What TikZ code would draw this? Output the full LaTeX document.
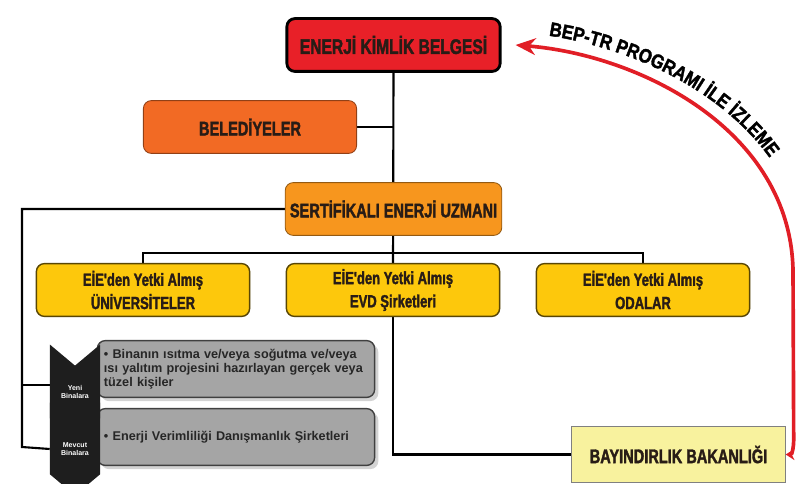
\documentclass[tikz,border=0pt]{standalone}
\usepackage{fontspec}
\setmainfont{Liberation Sans}
\newfontfamily\kutufont[FakeStretch=0.74, BoldFeatures={FakeBold=1.8}]{Liberation Sans}
\newfontfamily\bepfont[FakeStretch=0.86, BoldFeatures={FakeBold=1.8}]{Liberation Sans}
\usetikzlibrary{positioning,shapes.symbols,shadows,backgrounds}
\usetikzlibrary{arrows.meta,decorations.text}
\definecolor{kimlikred}{RGB}{232,32,40}
\definecolor{belorange}{RGB}{242,106,36}
\definecolor{uzmanorange}{RGB}{247,150,30}
\definecolor{yetkiyellow}{RGB}{253,200,12}
\definecolor{bakyellow}{RGB}{248,242,158}
\definecolor{maddegray}{RGB}{165,165,165}
\definecolor{okblack}{RGB}{30,30,30}
\definecolor{bepred}{RGB}{225,30,38}
\definecolor{yazi}{RGB}{40,28,22}
\tikzset{
    kutu/.style={rectangle, rounded corners=0.2cm, minimum width=5.33cm, minimum height=1.32cm,
        align=center, text=yazi, font=\kutufont\bfseries\fontsize{14}{15}\selectfont},
    kimlik/.style={kutu, fill=kimlikred, draw=black, line width=2pt, font=\kutufont\bfseries\fontsize{15}{16}\selectfont},
    belediye/.style={kutu, fill=belorange, draw=belorange!60!black, line width=0.6pt},
    uzman/.style={kutu, fill=uzmanorange, draw=uzmanorange!60!black, line width=0.6pt},
    yetki/.style={kutu, fill=yetkiyellow, draw=yetkiyellow!35!black, line width=1pt,
        font=\kutufont\bfseries\fontsize{12.5}{16.5}\selectfont,
        drop shadow={opacity=0.25,shadow xshift=0.5pt,shadow yshift=-0.5pt}},
    bakanlik/.style={kutu, rounded corners=0pt, fill=bakyellow, draw=gray, line width=0.8pt, minimum height=1.38cm},
    madde/.style={rectangle, rounded corners=0.2cm, fill=maddegray, draw=black!75, line width=1pt,
        minimum width=6.93cm, minimum height=1.42cm, text width=6.6cm, align=left, text=black!85,
        font=\bfseries\fontsize{9}{10}\selectfont, drop shadow={opacity=0.35}},
    ok/.style={signal, signal from=north, signal to=south, signal pointer angle=100, fill=okblack,
        minimum width=1.25cm, inner sep=0pt, text=white, align=center, font=\bfseries\fontsize{5}{6}\selectfont},
    hat/.style={draw=black, line width=1.5pt},
    bep/.style={draw=bepred, line width=2.6pt,
        arrows={Stealth[length=0.22cm,width=0.28cm]-Stealth[length=0.5cm,width=0.42cm]}}
}
\begin{document}
\begin{tikzpicture}[x=0.025cm,y=-0.025cm]
    \useasboundingbox (0,0) rectangle (800,484);
    \node[kimlik] (ekb) at (393.5,45) {ENERJİ KİMLİK BELGESİ};
    \node[belediye] (bel) at (250,127) {BELEDİYELER};
    \node[uzman] (sert) at (393.5,209) {SERTİFİKALI ENERJİ UZMANI};
    \node[yetki] (uni) at (143,290) {EİE'den Yetki Almış\\ÜNİVERSİTELER};
    \node[yetki] (evd) at (393,290) {EİE'den Yetki Almış\\EVD Şirketleri};
    \node[yetki] (oda) at (643,290) {EİE'den Yetki Almış\\ODALAR};
    \node[bakanlik] (bay) at (678.5,454.5) {BAYINDIRLIK BAKANLIĞI};
    \node[madde] (m1) at (236,369) {• Binanın ısıtma ve/veya soğutma ve/veya\\ısı yalıtım projesini hazırlayan gerçek veya\\tüzel kişiler};
    \node[madde] (m2) at (236,437) {• Enerji Verimliliği Danışmanlık Şirketleri};
    \node[ok, minimum height=1.9cm] (yeni) at (75,392) {Yeni\\Binalara};
    \node[ok, minimum height=1.85cm] (mevcut) at (75,449) {Mevcut\\Binalara};
    \coordinate (bara) at (393,253);
    \coordinate (ray) at (22,447);
    \begin{scope}[on background layer]
        \draw[hat] (ekb.south) -- (evd.north);
        \draw[hat] (bel.east) -- (bel.east -| ekb.south);
        \draw[hat] (uni.north) |- (bara) -| (oda.north);
        \draw[hat] (sert.west) -| (ray) -- (mevcut.west);
        \draw[hat] (ray |- yeni.165) -- (yeni.165);
        \draw[hat] (evd.south) |- (bay.west);
    \end{scope}
    \draw[bep] (bay.east) to[out=0,in=-90] ++(8,-14) -- (793,270)
        .. controls (790,130) and (640,55) .. ([xshift=0.35cm]ekb.east);
    \path[decorate, decoration={text along path, text align={left indent=0.85cm},
        text={|\bepfont\bfseries\fontsize{14}{14}\selectfont|BEP-TR PROGRAMI İLE İZLEME}}]
        (515,32) .. controls (645,40) and (805,122) .. (808,272);
\end{tikzpicture}
\end{document}
